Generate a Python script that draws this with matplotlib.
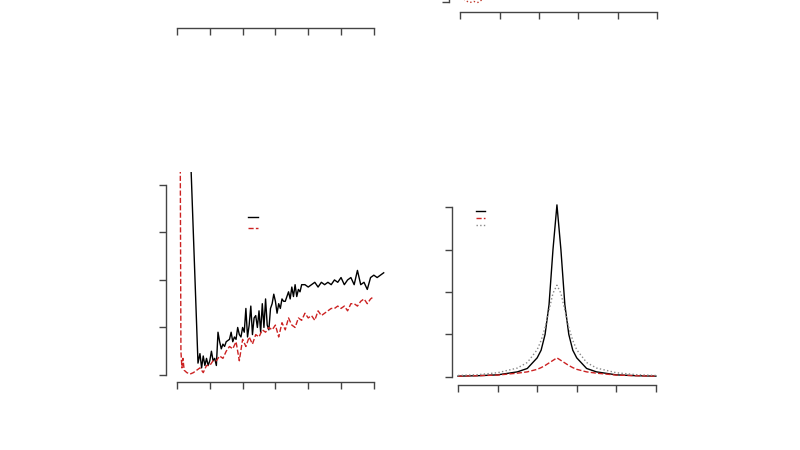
import matplotlib
matplotlib.use("Agg")
import matplotlib.pyplot as plt

# bottom-left panel: noisy series (black solid, red dashed)
bl_black_x = [42, 64, 70, 75, 80, 85, 90, 95, 100, 105, 110, 115, 120, 125, 130, 135, 140, 145, 150,
              160, 165, 170, 175, 180, 185, 190, 195, 200, 205, 210, 215, 220, 225, 230, 235, 240, 245,
              250, 255, 260, 265, 270, 275, 280, 285, 290, 295, 300, 305, 310, 315, 320, 325, 330, 340,
              345, 350, 355, 360, 365, 370, 375, 380, 390, 400, 410, 420, 430, 440, 450, 460, 470, 480,
              490, 500, 510, 520, 530, 540, 550, 560, 570, 580, 590, 600, 610, 620, 630]
bl_black_y = [4.5, .25, .45, .15, .4, .2, .35, .2, .3, .5, .3, .35, .2, .9, .7, .55, .65, .6, .7,
              .75, .9, .7, .8, .75, 1.0, .85, .8, 1.0, .9, 1.4, .8, 1.05, 1.45, .85, 1.2, 1.25, 1.0,
              1.35, .9, 1.5, 1.0, 1.6, 1.05, .95, 1.4, 1.5, 1.7, 1.55, 1.3, 1.5, 1.4, 1.6, 1.55, 1.55, 1.75,
              1.6, 1.85, 1.65, 1.9, 1.65, 1.8, 1.75, 1.9, 1.9, 1.85, 1.9, 1.95, 1.85, 1.95, 1.9, 1.95, 1.9, 2.0,
              1.95, 2.05, 1.9, 2.0, 2.05, 1.9, 2.2, 1.9, 1.95, 1.8, 2.05, 2.1, 2.05, 2.1, 2.15]
bl_red_x = [10, 12, 15, 18, 22, 30, 40, 50, 60, 70, 80, 90, 100, 110, 120, 130, 140, 150, 160, 170, 180,
            190, 200, 210, 220, 230, 240, 250, 260, 270, 280, 290, 300, 310, 320, 330, 340, 350, 360, 370,
            380, 390, 400, 410, 420, 430, 440, 450, 460, 470, 480, 490, 500, 510, 520, 530, 540, 550, 560,
            570, 580, 590, 600]
bl_red_y = [4.5, .5, .15, .35, .1, .05, .02, .05, .1, .15, .05, .2, .2, .3, .3, .4, .35, .5, .6, .55, .7,
            .3, .75, .6, .8, .65, .85, .8, .95, .9, 1.0, .95, 1.05, .8, 1.1, .95, 1.2, 1.05, 1.0, 1.2,
            1.15, 1.3, 1.2, 1.25, 1.15, 1.35, 1.25, 1.3, 1.35, 1.4, 1.4, 1.45, 1.4, 1.45, 1.35, 1.5, 1.5, 1.45, 1.55,
            1.6, 1.5, 1.6, 1.65]

# bottom-right panel: peaked curves
br_x = [0, 0.5, 1.0, 1.5, 1.75, 2.0, 2.1, 2.2, 2.3, 2.4, 2.5, 2.6, 2.7, 2.8, 2.9, 3.0, 3.25, 3.5, 4.0, 4.5, 5.0]
br_black = [.02, .03, .05, .12, .2, .45, .63, 1.0, 1.7, 3.0, 4.05, 3.0, 1.7, 1.0, .63, .45, .2, .12, .05, .03, .02]
br_red = [.02, .03, .045, .09, .12, .18, .22, .27, .33, .39, .45, .39, .33, .27, .22, .18, .12, .09, .045, .03, .02]
br_gray = [.035, .055, .1, .21, .34, .64, .86, 1.16, 1.57, 1.97, 2.16, 1.97, 1.57, 1.16, .86, .64, .34, .21, .1, .055, .035]

# top-right panel: visible fragment
tr_x = [0.05, 0.15, 0.25, 0.35, 0.45, 0.55, 0.65, 0.75]
tr_red = [0.1, 0.03, 0.0, 0.02, 0.0, 0.05, 0.1, 0.15]

W, H = 800, 450
fig = plt.figure(figsize=(8, 4.5), dpi=100)


def box(l, r, t, b):
    return [l / W, 1 - b / H, (r - l) / W, (b - t) / H]


def style(ax, xb, yb, xout, yout, show_left=True):
    for s in ['top', 'right']:
        ax.spines[s].set_visible(False)
    ax.spines['bottom'].set_position(('outward', xout))
    ax.spines['bottom'].set_bounds(*xb)
    ax.spines['left'].set_position(('outward', yout))
    ax.spines['left'].set_bounds(*yb)
    ax.spines['left'].set_visible(show_left)
    for s in ['bottom', 'left']:
        ax.spines[s].set_color('#444444')
        ax.spines[s].set_linewidth(1)
    ax.tick_params(colors='#444444', labelbottom=False, labelleft=False, length=5, width=1)
    if not show_left:
        ax.tick_params(left=False)


# top-left (mostly off-figure)
ax = fig.add_axes(box(170, 385, -180, 24))
ax.set_xlim(-21.3, 634)
ax.set_ylim(0, 4)
ax.set_xticks(range(0, 601, 100))
ax.set_yticks([])
style(ax, (0, 600), (0, 4), 3, 3, show_left=False)

# top-right (mostly off-figure)
ax = fig.add_axes(box(455, 663, -200, 5))
ax.set_xlim(-0.13, 5.15)
ax.set_ylim(-0.05, 4)
ax.plot(tr_x, tr_red, color='#c0392b', lw=1, ls=':')
ax.set_xticks(range(0, 6))
ax.set_yticks(range(0, 5))
style(ax, (0, 5), (0, 4), 5, 4)

# bottom-left
ax = fig.add_axes(box(170, 385, 172, 378))
ax.plot(bl_black_x, bl_black_y, color='black', lw=1, label=' ')
ax.plot(bl_red_x, bl_red_y, color='#cc2222', lw=1, ls='--', label=' ')
ax.set_xlim(-21.3, 634)
ax.set_ylim(-0.063, 4.27)
ax.set_xticks(range(0, 601, 100))
ax.set_yticks(range(0, 5))
style(ax, (0, 600), (0, 4), 3, 3)
ax.legend(frameon=False, loc='upper left', bbox_to_anchor=(0.33, 0.84), handlelength=1.2,
          fontsize=6, labelspacing=0.3)

# bottom-right
ax = fig.add_axes(box(455, 663, 200, 378))
ax.plot(br_x, br_black, color='black', lw=1, label=' ')
ax.plot(br_x, br_red, color='#cc2222', lw=1, ls='--', label=' ')
ax.plot(br_x, br_gray, color='#888888', lw=1, ls=':', label=' ')
ax.set_xlim(-0.076, 5.18)
ax.set_ylim(-0.024, 4.165)
ax.set_xticks(range(0, 6))
ax.set_yticks(range(0, 5))
style(ax, (0, 5), (0, 4), 5, 2)
ax.legend(frameon=False, loc='upper left', bbox_to_anchor=(0.07, 0.99), handlelength=1.3,
          fontsize=5, labelspacing=0.2)

fig.savefig('out.png', dpi=100)
